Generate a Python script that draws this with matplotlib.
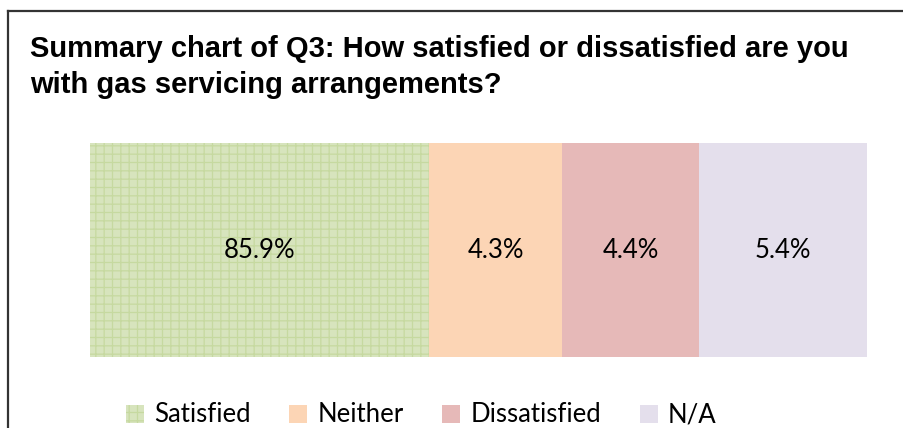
import matplotlib.pyplot as plt
from matplotlib.patches import Patch
from matplotlib.lines import Line2D

categories = ['Satisfied', 'Neither', 'Dissatisfied', 'N/A']
values = [85.9, 4.3, 4.4, 5.4]
labels = ['85.9%', '4.3%', '4.4%', '5.4%']
colors = ['#d7e4bd', '#fcd5b5', '#e6b9b8', '#e4dfec']
title_lines = ['Summary chart of Q3: How satisfied or dissatisfied are you',
               'with gas servicing arrangements?']

hatch_col = '#c6d9a0'
plt.rcParams['hatch.linewidth'] = 0.9

W, H = 904, 428
fig = plt.figure(figsize=(W / 100, H / 100), dpi=100)
ax = fig.add_axes([90 / W, 1 - 357 / H, (867 - 90) / W, (357 - 143) / H])

xmin = 75
left = 0
for cat, val, lab, col in zip(categories, values, labels, colors):
    if cat == 'Satisfied':
        ax.barh(0, val, left=left, height=1, color=col, hatch='++',
                edgecolor=hatch_col, linewidth=0, label=cat)
    else:
        ax.barh(0, val, left=left, height=1, color=col,
                edgecolor='none', linewidth=0, label=cat)
    mid = (max(left, xmin) + left + val) / 2
    ax.text(mid, 0, lab, ha='center', va='center', fontsize=18.5,
            family='Lato', color='black')
    left += val

ax.set_xlim(xmin, 100)
ax.set_ylim(-0.5, 0.5)
ax.axis('off')

# title, two lines
fig.text(30 / W, 1 - 57 / H, title_lines[0], fontsize=21, fontweight='bold',
         family='Liberation Sans', va='baseline')
fig.text(30 / W, 1 - 93 / H, title_lines[1], fontsize=21, fontweight='bold',
         family='Liberation Sans', va='baseline')

# legend
handles = []
for n, c in zip(categories, colors):
    if n == 'Satisfied':
        handles.append(Patch(facecolor=c, hatch='++', edgecolor=hatch_col, linewidth=0))
    else:
        handles.append(Patch(facecolor=c, edgecolor='none', linewidth=0))
fig.legend(handles, categories, loc='center', bbox_to_anchor=(421 / W, 1 - 415 / H),
           ncol=4, frameon=False, prop={'family': 'Lato', 'size': 18.5},
           handlelength=0.7, handleheight=0.7, handletextpad=0.4,
           columnspacing=1.5)

# outer frame (left and top only visible)
fig.add_artist(Line2D([8 / W, 8 / W], [0, 1 - 11 / H], color='#333333', lw=1.6))
fig.add_artist(Line2D([8 / W, 1], [1 - 11 / H, 1 - 11 / H], color='#333333', lw=1.6))

fig.savefig('out.png', dpi=100)
